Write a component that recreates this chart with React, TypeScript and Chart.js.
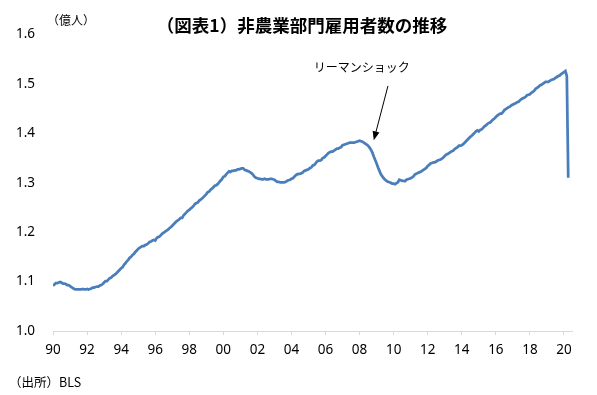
import React, { useEffect, useRef } from "react";
import { Chart, registerables } from "chart.js";

Chart.register(...registerables);

// Monthly nonfarm payroll employment (億人), Jan 1990 – Apr 2020
const startYear = 1990;
const values1990s: number[] = [
  1.092, 1.094, 1.097, 1.097, 1.098, 1.099, 1.098, 1.096, 1.096, 1.095, 1.093, 1.093,
  1.091, 1.089, 1.087, 1.085, 1.084, 1.084, 1.084, 1.084, 1.084, 1.085, 1.084, 1.084,
  1.085, 1.084, 1.085, 1.086, 1.088, 1.088, 1.089, 1.090, 1.090, 1.092, 1.093, 1.095,
  1.098, 1.101, 1.101, 1.104, 1.107, 1.108, 1.111, 1.113, 1.115, 1.118, 1.121, 1.124,
  1.127, 1.129, 1.134, 1.137, 1.141, 1.144, 1.148, 1.150, 1.154, 1.156, 1.160, 1.163,
  1.166, 1.168, 1.170, 1.172, 1.172, 1.174, 1.175, 1.177, 1.180, 1.181, 1.183, 1.184,
  1.183, 1.188, 1.190, 1.191, 1.194, 1.197, 1.199, 1.201, 1.203, 1.205, 1.208, 1.210,
  1.213, 1.216, 1.219, 1.222, 1.224, 1.226, 1.229, 1.229, 1.234, 1.237, 1.240, 1.243,
  1.245, 1.248, 1.250, 1.253, 1.257, 1.259, 1.260, 1.264, 1.266, 1.268, 1.271, 1.274,
  1.277, 1.281, 1.282, 1.286, 1.288, 1.291, 1.294, 1.295, 1.297, 1.301, 1.304, 1.307,
];
const values2000s: number[] = [
  1.312, 1.313, 1.317, 1.320, 1.323, 1.322, 1.324, 1.324, 1.325, 1.325, 1.327, 1.327,
  1.328, 1.329, 1.329, 1.326, 1.325, 1.324, 1.323, 1.321, 1.319, 1.316, 1.312, 1.310,
  1.309, 1.308, 1.308, 1.307, 1.307, 1.308, 1.307, 1.307, 1.307, 1.308, 1.308, 1.307,
  1.306, 1.304, 1.302, 1.302, 1.301, 1.301, 1.301, 1.301, 1.302, 1.304, 1.305, 1.306,
  1.308, 1.309, 1.312, 1.315, 1.317, 1.318, 1.318, 1.319, 1.321, 1.324, 1.325, 1.326,
  1.327, 1.330, 1.331, 1.335, 1.336, 1.339, 1.343, 1.345, 1.345, 1.346, 1.350, 1.351,
  1.354, 1.357, 1.360, 1.362, 1.363, 1.363, 1.365, 1.367, 1.369, 1.369, 1.371, 1.372,
  1.376, 1.377, 1.378, 1.379, 1.380, 1.381, 1.381, 1.381, 1.381, 1.382, 1.383, 1.384,
  1.385, 1.384, 1.383, 1.381, 1.379, 1.377, 1.375, 1.371, 1.367, 1.361, 1.353, 1.346,
  1.339, 1.331, 1.324, 1.317, 1.313, 1.309, 1.306, 1.304, 1.302, 1.301, 1.300, 1.298,
];
const values2010s: number[] = [
  1.298, 1.297, 1.299, 1.301, 1.306, 1.305, 1.304, 1.304, 1.303, 1.306, 1.307, 1.308,
  1.309, 1.311, 1.313, 1.317, 1.318, 1.320, 1.321, 1.322, 1.324, 1.326, 1.328, 1.330,
  1.334, 1.336, 1.339, 1.340, 1.341, 1.341, 1.343, 1.345, 1.346, 1.347, 1.349, 1.351,
  1.354, 1.357, 1.358, 1.360, 1.362, 1.364, 1.365, 1.368, 1.370, 1.372, 1.375, 1.375,
  1.376, 1.378, 1.381, 1.384, 1.387, 1.390, 1.393, 1.395, 1.398, 1.401, 1.404, 1.406,
  1.404, 1.407, 1.408, 1.411, 1.414, 1.416, 1.419, 1.421, 1.422, 1.425, 1.428, 1.430,
  1.433, 1.436, 1.438, 1.440, 1.440, 1.443, 1.447, 1.449, 1.451, 1.453, 1.454, 1.457,
  1.458, 1.460, 1.461, 1.463, 1.464, 1.467, 1.469, 1.471, 1.472, 1.474, 1.477, 1.478,
  1.479, 1.482, 1.484, 1.486, 1.490, 1.492, 1.494, 1.497, 1.498, 1.500, 1.502, 1.504,
  1.504, 1.504, 1.506, 1.508, 1.509, 1.510, 1.512, 1.514, 1.516, 1.517, 1.520, 1.522,
];
const values2020: number[] = [1.524, 1.526, 1.516, 1.310];

const employment = [...values1990s, ...values2000s, ...values2010s, ...values2020];

const yTicks = [1.0, 1.1, 1.2, 1.3, 1.4, 1.5, 1.6];
const xTickYears = ["90", "92", "94", "96", "98", "00", "02", "04", "06", "08", "10", "12", "14", "16", "18", "20"];

const titleText = "（図表1）非農業部門雇用者数の推移";
const unitText = "（億人）";
const sourceText = "（出所）BLS";
const annotationText = "リーマンショック";
// annotation anchors in data coordinates (month index, value)
const arrowTip = { x: 226, y: 1.386 };
const arrowTail = { x: 236, y: 1.496 };
const annotationPos = { x: 217.5, y: 1.534 };

const lineColor = "#4a7ebb";

export default function App() {
  const ref = useRef<HTMLCanvasElement | null>(null);

  useEffect(() => {
    const canvas = ref.current;
    if (!canvas) return;

    const textPlugin = {
      id: "texts",
      afterDraw(chart: any) {
        const ctx = chart.ctx as CanvasRenderingContext2D;
        const xs = chart.scales.x;
        const ys = chart.scales.y;
        ctx.save();
        ctx.fillStyle = "#000";
        ctx.textBaseline = "middle";

        ctx.font = "bold 17.5px 'Noto Sans CJK JP', sans-serif";
        ctx.textAlign = "center";
        ctx.fillText(titleText, 302, 25);

        ctx.font = "12px 'Noto Sans CJK JP', sans-serif";
        ctx.textAlign = "left";
        ctx.fillText(unitText, 47, 20);

        ctx.font = "12.5px 'Noto Sans CJK JP', sans-serif";
        ctx.fillText(sourceText, 9, 382);

        ctx.font = "12px 'Noto Sans CJK JP', sans-serif";
        ctx.textAlign = "center";
        ctx.fillText(annotationText, xs.getPixelForValue(annotationPos.x), ys.getPixelForValue(annotationPos.y));

        const tx = xs.getPixelForValue(arrowTip.x);
        const ty = ys.getPixelForValue(arrowTip.y);
        const sx = xs.getPixelForValue(arrowTail.x);
        const sy = ys.getPixelForValue(arrowTail.y);
        const ang = Math.atan2(ty - sy, tx - sx);
        const headLen = 9;
        const headW = 3.5;
        ctx.strokeStyle = "#000";
        ctx.lineWidth = 1;
        ctx.beginPath();
        ctx.moveTo(sx, sy);
        ctx.lineTo(tx - Math.cos(ang) * headLen * 0.8, ty - Math.sin(ang) * headLen * 0.8);
        ctx.stroke();
        const bx = tx - Math.cos(ang) * headLen;
        const by = ty - Math.sin(ang) * headLen;
        ctx.beginPath();
        ctx.moveTo(tx, ty);
        ctx.lineTo(bx + Math.sin(ang) * headW, by - Math.cos(ang) * headW);
        ctx.lineTo(bx - Math.sin(ang) * headW, by + Math.cos(ang) * headW);
        ctx.closePath();
        ctx.fillStyle = "#000";
        ctx.fill();
        ctx.restore();
      },
    };

    const bgPlugin = {
      id: "bg",
      beforeDraw(chart: any) {
        const ctx = chart.ctx;
        ctx.save();
        ctx.fillStyle = "#fff";
        ctx.fillRect(0, 0, chart.width, chart.height);
        ctx.restore();
      },
    };

    const chart = new Chart(canvas, {
      type: "line",
      data: {
        datasets: [
          {
            data: employment.map((v, i) => ({ x: i, y: v })),
            borderColor: lineColor,
            borderWidth: 2.75,
            pointRadius: 0,
            tension: 0,
            fill: false,
          },
        ],
      },
      options: {
        animation: false,
        responsive: false,
        parsing: false as any,
        layout: { padding: { left: 0, right: 24.5, top: 34.5, bottom: 0 } },
        plugins: {
          legend: { display: false },
          tooltip: { enabled: false },
          title: { display: false },
        },
        scales: {
          x: {
            type: "linear",
            min: 0,
            max: 366,
            afterFit: (s: any) => {
              s.height = 64;
            },
            afterBuildTicks: (s: any) => {
              s.ticks = xTickYears.map((_, i) => ({ value: i * 24 }));
            },
            ticks: {
              autoSkip: false,
              maxRotation: 0,
              padding: 7,
              color: "#000",
              font: { family: "'Noto Sans', sans-serif", size: 13.5 },
              callback: (v: any) => xTickYears[Math.round(Number(v) / 24)] ?? "",
            },
            grid: {
              display: true,
              drawOnChartArea: false,
              drawTicks: true,
              tickLength: 4,
              color: "#d9d9d9",
            },
            border: { display: true, color: "#d9d9d9" },
          },
          y: {
            min: 1.0,
            max: 1.6,
            afterFit: (s: any) => {
              s.width = 53;
            },
            afterBuildTicks: (s: any) => {
              s.ticks = yTicks.map((v) => ({ value: v }));
            },
            ticks: {
              padding: 18,
              color: "#000",
              font: { family: "'Noto Sans', sans-serif", size: 13.5 },
              callback: (v: any) => Number(v).toFixed(1),
            },
            grid: { display: false, drawTicks: false },
            border: { display: false },
          },
        },
      },
      plugins: [bgPlugin, textPlugin],
    });

    return () => chart.destroy();
  }, []);

  return (
    <div style={{ position: "fixed", left: 0, top: 0, width: 597, height: 395, background: "#fff" }}>
      <canvas ref={ref} width={597} height={395} style={{ display: "block", width: 597, height: 395 }} />
    </div>
  );
}
